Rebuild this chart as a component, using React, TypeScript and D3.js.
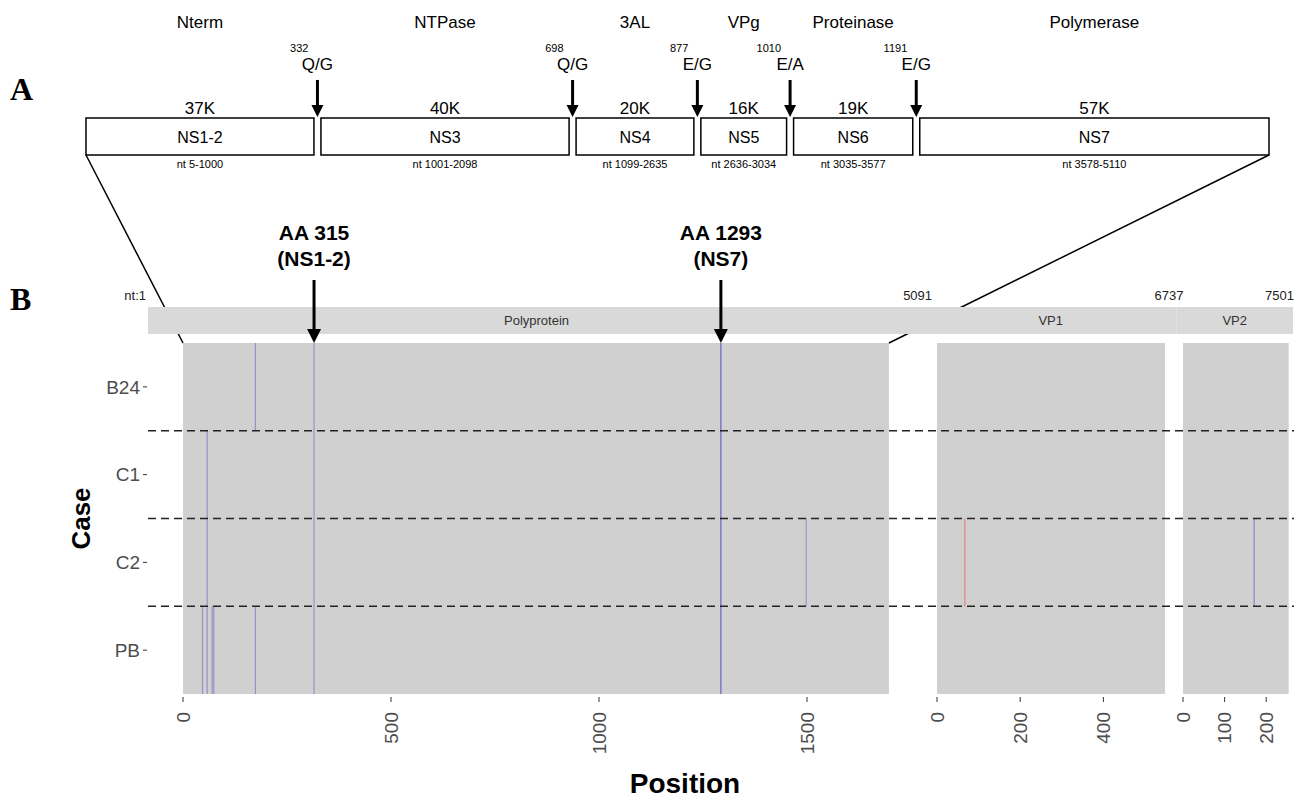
import React from 'react';
import * as d3 from 'd3';

// panel A: non-structural proteins of the polyprotein
const proteins = ['NS1-2', 'NS3', 'NS4', 'NS5', 'NS6', 'NS7'];
const proteinSizes = ['37K', '40K', '20K', '16K', '19K', '57K'];
const proteinFunctions = ['Nterm', 'NTPase', '3AL', 'VPg', 'Proteinase', 'Polymerase'];
const proteinNt = ['nt 5-1000', 'nt 1001-2098', 'nt 1099-2635', 'nt 2636-3034', 'nt 3035-3577', 'nt 3578-5110'];
const cleavageAA = [332, 698, 877, 1010, 1191];
const cleavageSites = ['Q/G', 'Q/G', 'E/G', 'E/A', 'E/G'];
const polyproteinAA = 1697;

// panel B: genome regions (nt) and facets (aa)
const regions = ['Polyprotein', 'VP1', 'VP2'];
const regionBounds = [1, 5091, 6737, 7501];
const regionLengths = [1697, 548, 254];
const regionTicks = [[0, 500, 1000, 1500], [0, 200, 400], [0, 100, 200]];

const cases = ['B24', 'C1', 'C2', 'PB'];

// variant positions per case: [region, aa position, allele freq, effect]
const variantsB24 = [['Polyprotein', 174, 0.5, 'ns'], ['Polyprotein', 315, 0.5, 'ns'], ['Polyprotein', 1293, 1, 'ns']];
const variantsC1 = [['Polyprotein', 58, 0.5, 'ns'], ['Polyprotein', 315, 0.5, 'ns'], ['Polyprotein', 1293, 1, 'ns']];
const variantsC2 = [
  ['Polyprotein', 58, 0.5, 'ns'], ['Polyprotein', 315, 0.5, 'ns'], ['Polyprotein', 1293, 1, 'ns'],
  ['Polyprotein', 1498, 0.45, 'ns'], ['VP1', 67, 0.6, 's'], ['VP2', 171, 0.6, 'ns'],
];
const variantsPB = [
  ['Polyprotein', 47, 0.5, 'ns'], ['Polyprotein', 58, 0.5, 'ns'], ['Polyprotein', 70, 0.5, 'ns'],
  ['Polyprotein', 74, 0.5, 'ns'], ['Polyprotein', 174, 0.5, 'ns'], ['Polyprotein', 315, 0.5, 'ns'],
  ['Polyprotein', 1293, 1, 'ns'],
];
const variantsByCase = [variantsB24, variantsC1, variantsC2, variantsPB];

const highlightAA = [315, 1293];
const highlightLabels = ['AA 315', 'AA 1293'];
const highlightProteins = ['(NS1-2)', '(NS7)'];

const W = 1309;
const H = 802;
const sans = 'Liberation Sans, Arial, Helvetica, sans-serif';

function Arrow({ x, y1, y2, w = 3, head = 12, hw = 6 }: any) {
  return (
    <g>
      <line x1={x} x2={x} y1={y1} y2={y2 - head + 2} stroke="#000" strokeWidth={w} />
      <path d={`M${x - hw},${y2 - head} L${x + hw},${y2 - head} L${x},${y2} Z`} fill="#000" />
    </g>
  );
}

export default function App() {
  // panel A scale (aa -> px)
  const aScale = d3.scaleLinear().domain([0, polyproteinAA]).range([86, 1269]);
  const edges = [0, ...cleavageAA, polyproteinAA];
  const boxTop = 118;
  const boxBottom = 155;

  // panel B scales
  const pxPerAA = 0.416;
  const facetStarts = [183, 937, 1183];
  const xScales = regions.map((r, i) =>
    d3.scaleLinear().domain([0, regionLengths[i]]).range([facetStarts[i], facetStarts[i] + regionLengths[i] * pxPerAA])
  );
  const yScale = d3.scaleBand().domain(cases).range([343, 694]).padding(0);
  const ntScale = d3.scaleLinear().domain([1, 7501]).range([148, 1293]);
  const colorScale = d3.scaleOrdinal<string, string>().domain(['ns', 's']).range(['#4040c0', '#ff3030']);
  const opacityScale = d3.scaleLinear().domain([0, 1]).range([0.1, 0.75]);

  const panelTop = yScale.range()[0];
  const panelBottom = yScale.range()[1];

  return (
    <svg width={W} height={H} style={{ position: 'absolute', left: 0, top: 0, background: '#fff' }} fontFamily={sans}>
      {/* panel letters */}
      <text x={10} y={100} fontFamily="Liberation Serif, Times New Roman, serif" fontWeight="bold" fontSize={32}>A</text>
      <text x={10} y={310} fontFamily="Liberation Serif, Times New Roman, serif" fontWeight="bold" fontSize={32}>B</text>

      {/* panel A boxes */}
      {proteins.map((p, i) => {
        const x0 = aScale(edges[i]) + (i === 0 ? 0 : 3.5);
        const x1 = aScale(edges[i + 1]) - (i === proteins.length - 1 ? 0 : 3.5);
        const cx = (x0 + x1) / 2;
        return (
          <g key={p}>
            <rect x={x0} y={boxTop} width={x1 - x0} height={boxBottom - boxTop} fill="#fff" stroke="#000" strokeWidth={1.5} />
            <text x={cx} y={28} textAnchor="middle" fontSize={17}>{proteinFunctions[i]}</text>
            <text x={cx} y={114} textAnchor="middle" fontSize={17}>{proteinSizes[i]}</text>
            <text x={cx} y={143} textAnchor="middle" fontSize={16}>{p}</text>
            <text x={cx} y={168} textAnchor="middle" fontSize={11}>{proteinNt[i]}</text>
          </g>
        );
      })}
      {cleavageAA.map((aa, i) => {
        const x = aScale(aa);
        return (
          <g key={aa}>
            <text x={x - 9} y={52} textAnchor="end" fontSize={11}>{aa}</text>
            <text x={x} y={70} textAnchor="middle" fontSize={17}>{cleavageSites[i]}</text>
            <Arrow x={x} y1={80} y2={117} />
          </g>
        );
      })}

      {/* zoom lines from panel A to panel B */}
      <line x1={aScale(0)} y1={boxBottom} x2={xScales[0](0)} y2={panelTop} stroke="#000" strokeWidth={1.5} />
      <line x1={aScale(polyproteinAA)} y1={boxBottom} x2={xScales[0](polyproteinAA)} y2={panelTop} stroke="#000" strokeWidth={1.5} />

      {/* genome bar */}
      <rect x={ntScale(1)} y={307} width={ntScale(7501) - ntScale(1)} height={27} fill="#d9d9d9" />
      {regions.map((r, i) => (
        <text key={r} x={(ntScale(regionBounds[i]) + ntScale(regionBounds[i + 1])) / 2} y={325} textAnchor="middle" fontSize={13} fill="#333">{r}</text>
      ))}
      <line x1={ntScale(regionBounds[2])} x2={ntScale(regionBounds[2])} y1={307} y2={334} stroke="#e4e4e4" strokeWidth={1} />
      <text x={146} y={300} textAnchor="end" fontSize={13} fill="#222">nt:1</text>
      {regionBounds.slice(1).map((b) => (
        <text key={b} x={Math.min(ntScale(b) + 7, 1294)} y={300} textAnchor="end" fontSize={13} fill="#222">{b}</text>
      ))}

      {/* facet backgrounds */}
      {regions.map((r, i) => (
        <rect key={r} x={xScales[i].range()[0]} y={panelTop} width={xScales[i].range()[1] - xScales[i].range()[0]} height={panelBottom - panelTop} fill="#d0d0d0" />
      ))}

      {/* variants */}
      {cases.map((c, ci) =>
        variantsByCase[ci].map((v: any, vi) => {
          const ri = regions.indexOf(v[0]);
          const x = xScales[ri](v[1]);
          return (
            <line key={c + vi} x1={x} x2={x} y1={yScale(c)!} y2={yScale(c)! + yScale.bandwidth()}
              stroke={colorScale(v[3])} strokeOpacity={opacityScale(v[2])} strokeWidth={1.2} />
          );
        })
      )}

      {/* case separators */}
      {cases.slice(1).map((c) => (
        <line key={c} x1={148} x2={1294} y1={yScale(c)!} y2={yScale(c)!} stroke="#222" strokeWidth={1.5} strokeDasharray="8,5" />
      ))}

      {/* y axis */}
      {cases.map((c) => {
        const y = yScale(c)! + yScale.bandwidth() / 2;
        return (
          <g key={c}>
            <line x1={143} x2={147} y1={y} y2={y} stroke="#333" strokeWidth={1} />
            <text x={140} y={y} dy="0.35em" textAnchor="end" fontSize={19} fill="#4d4d4d">{c}</text>
          </g>
        );
      })}
      <text transform={`translate(90,${(panelTop + panelBottom) / 2}) rotate(-90)`} textAnchor="middle" fontSize={26} fontWeight="bold">Case</text>

      {/* x axes */}
      {regions.map((r, i) =>
        regionTicks[i].map((t) => {
          const x = xScales[i](t);
          return (
            <g key={r + t}>
              <line x1={x} x2={x} y1={697} y2={702} stroke="#333" strokeWidth={1} />
              <text transform={`translate(${x},712) rotate(-90)`} dy="0.35em" textAnchor="end" fontSize={19} fill="#4d4d4d">{t}</text>
            </g>
          );
        })
      )}
      <text x={685} y={793} textAnchor="middle" fontSize={28} fontWeight="bold">Position</text>

      {/* highlighted positions */}
      {highlightAA.map((aa, i) => {
        const x = xScales[0](aa);
        return (
          <g key={aa}>
            <text x={x} y={240} textAnchor="middle" fontSize={21} fontWeight="bold">{highlightLabels[i]}</text>
            <text x={x} y={266} textAnchor="middle" fontSize={21} fontWeight="bold">{highlightProteins[i]}</text>
            <Arrow x={x} y1={280} y2={343} w={3} head={14} hw={7} />
          </g>
        );
      })}
    </svg>
  );
}
